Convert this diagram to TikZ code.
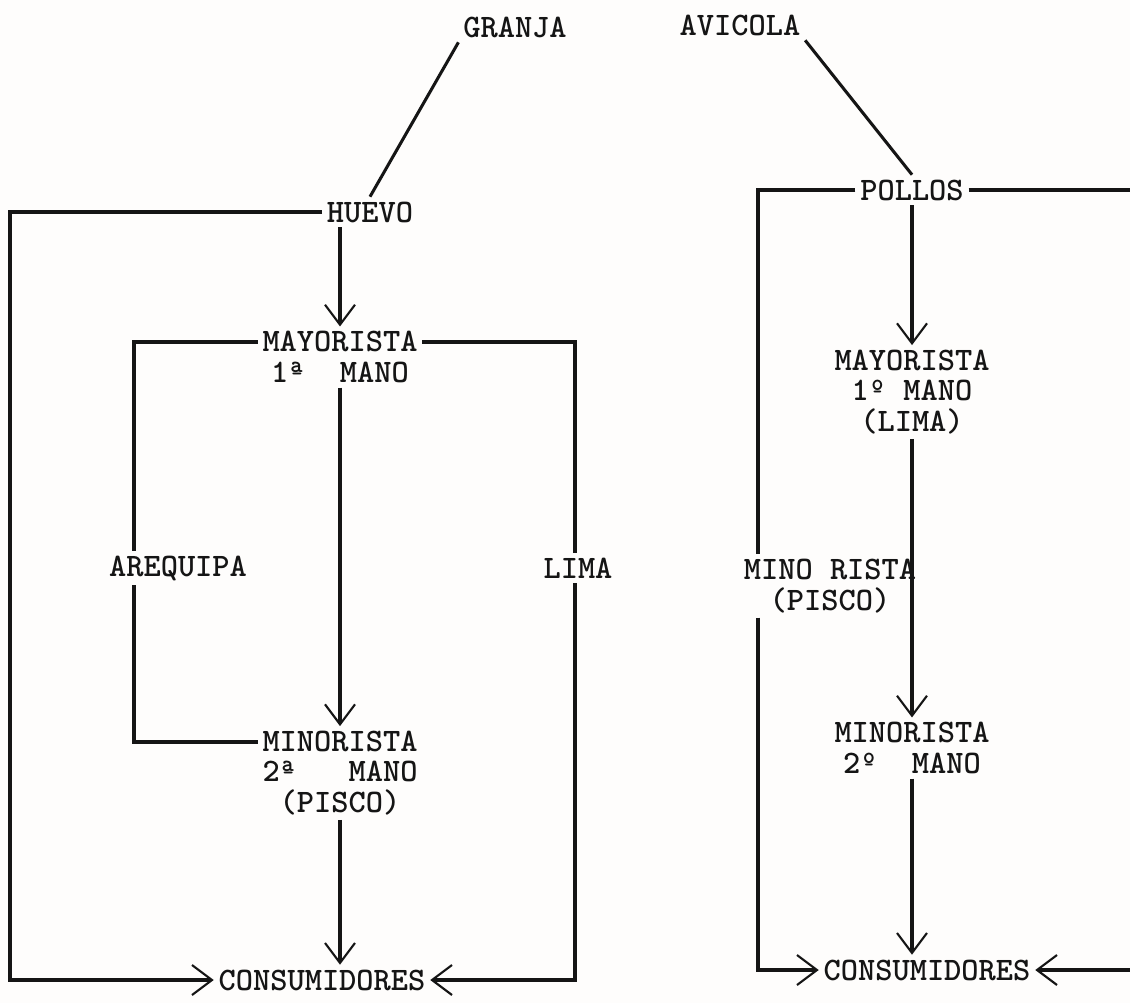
\documentclass[tikz,border=0pt]{standalone}
\usepackage{xcolor}
\usepackage{tikz}
\usetikzlibrary{arrows.meta}
\definecolor{InkBlack}{HTML}{151515}
\definecolor{PaperWhite}{HTML}{FEFDFC}
\tikzset{
  TW/.style={inner sep=4pt,align=center,text=InkBlack,
             font=\ttfamily\bfseries\fontsize{28pt}{26pt}\selectfont},
  ln/.style={draw=InkBlack,line width=2.6pt},
  arr/.style={ln,-{Straight Barb[length=0.6cm,width=0.9cm,line width=1.8pt]}}
}
\begin{document}
\begin{tikzpicture}[x=0.03cm,y=-0.03cm]
  \fill[PaperWhite] (0,0) rectangle (1130,1003);
  \useasboundingbox (0,0) rectangle (1130,1003);

  \node[TW] (granja) at (515,27) {GRANJA};
  \node[TW] (avic) at (740,25) {AVICOLA};
  \node[TW] (huevo) at (370,212) {HUEVO};
  \node[TW] (mayL) at (340,357) {MAYORISTA\\1ª\ \ MANO};
  \node[TW] (areq) at (178,568) {AREQUIPA};
  \node[TW] (lima) at (578,568) {LIMA};
  \node[TW] (minL) at (340,773) {MINORISTA\\2ª\ \ \ MANO\\(PISCO)};
  \node[TW] (consL) at (322,980) {CONSUMIDORES};
  \node[TW] (pollos) at (912,190) {POLLOS};
  \node[TW] (mayR) at (912,392) {MAYORISTA\\1º MANO\\(LIMA)};
  \node[TW] (mino) at (830,586) {MINO RISTA\\(PISCO)};
  \node[TW] (minR) at (912,748) {MINORISTA\\2º\ \ MANO};
  \node[TW] (consR) at (927,970) {CONSUMIDORES};

  \coordinate (cL) at (10,0);
  \coordinate (cA) at (134,0);
  \coordinate (cLi) at (575,0);
  \coordinate (cP) at (758,0);
  \coordinate (cE) at (1145,0);

  \draw[ln] (granja.south west) -- (huevo.north);
  \draw[ln] (avic.south east) -- (pollos.north);

  \draw[arr] (huevo.south -| mayL.north) -- (mayL.north);
  \draw[arr] (mayL.south) -- (minL.north);
  \draw[arr] (minL.south) -- (minL.south |- consL.north);
  \draw[arr] (huevo.west) -| (consL.west -| cL) -- (consL.west);
  \draw[ln] ([yshift=0.45cm]mayL.west) -| (areq.north -| cA);
  \draw[ln] (areq.south -| cA) |- ([yshift=0.93cm]minL.west);
  \draw[ln] ([yshift=0.45cm]mayL.east) -| (lima.north -| cLi);
  \draw[arr] (lima.south -| cLi) |- (consL.east);

  \draw[arr] (pollos.south -| mayR.north) -- (mayR.north);
  \draw[arr] (mayR.south) -- (minR.north);
  \draw[arr] (minR.south) -- (minR.south |- consR.north);
  \draw[ln] (pollos.west) -| (mino.north -| cP);
  \draw[arr] (mino.south -| cP) |- (consR.west);
  \draw[arr] (pollos.east) -| (consR.east -| cE) -- (consR.east);
\end{tikzpicture}
\end{document}
